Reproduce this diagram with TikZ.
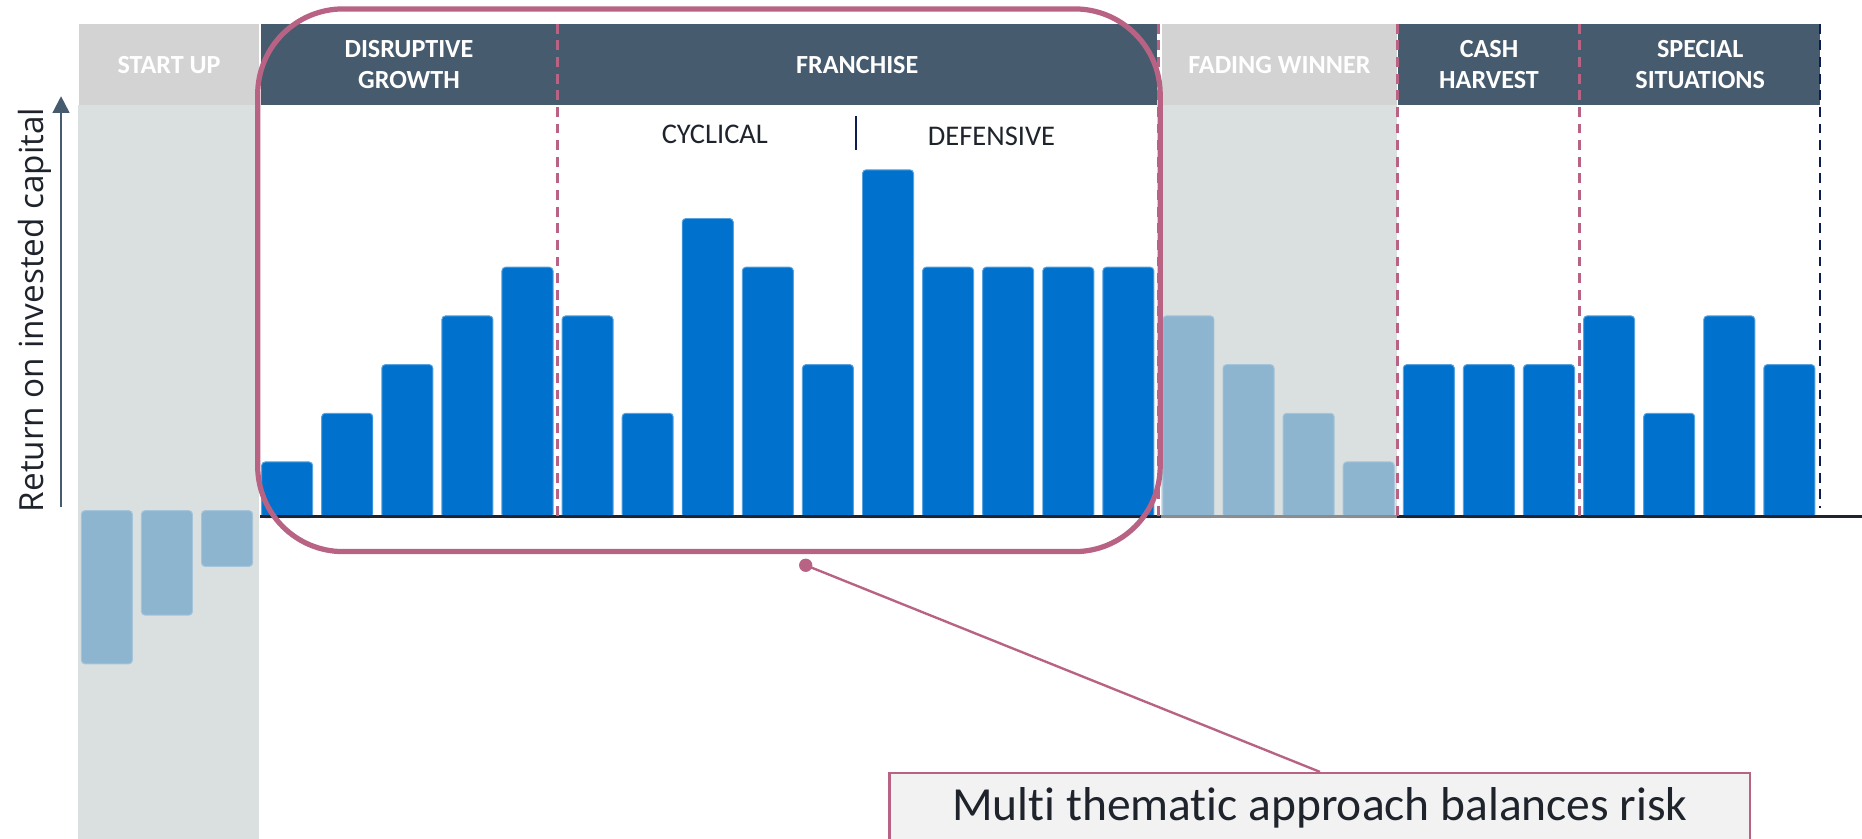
\documentclass[tikz,border=0pt]{standalone}
\usepackage{fontspec}
\setmainfont{Carlito}[Ligatures=CommonOff]
\newfontfamily\axisfont{Open Sans}
\usetikzlibrary{arrows.meta}
\definecolor{hdrblue}{RGB}{71,91,110}
\definecolor{hdrgrey}{RGB}{211,211,211}
\definecolor{bandgrey}{RGB}{218,224,223}
\definecolor{barblue}{RGB}{0,114,206}
\definecolor{barfade}{RGB}{142,181,208}
\definecolor{rose}{RGB}{184,99,131}
\definecolor{navy}{RGB}{12,30,80}
\definecolor{inkdark}{RGB}{31,36,44}
\definecolor{notegrey}{RGB}{242,242,242}

\begin{document}
\begin{tikzpicture}[x=0.5pt,y=-0.5pt]
		\tikzset{
			hdr/.style={anchor=north west,minimum height=34pt,inner sep=0pt,text=white,align=center,
				font=\fontsize{11pt}{13pt}\selectfont\bfseries},
			hdrdark/.style={hdr,fill=hdrblue},
			hdrlight/.style={hdr,fill=hdrgrey},
			bluebar/.style={fill=barblue,draw=barblue!65!white,line width=0.4pt,rounded corners=1.5pt},
			fadebar/.style={fill=barfade,draw=barfade!80!white,line width=0.4pt,rounded corners=1.5pt},
			sepline/.style={rose,line width=1.1pt,dash pattern=on 4.2pt off 2.8pt},
			sepnavy/.style={sepline,navy},
			focusbox/.style={rose,line width=2.2pt,rounded corners=36pt},
			sublabel/.style={text=inkdark,font=\fontsize{12pt}{14pt}\selectfont},
			note/.style={anchor=north,minimum width=362.5pt,minimum height=29pt,fill=notegrey,draw=rose,
				line width=0.9pt,text=inkdark,font=\fontsize{20pt}{24pt}\selectfont}
		}
		\useasboundingbox (0,0) rectangle (1568,706.5);
		\fill[bandgrey] (66,88) rectangle (218,706.5);
		\fill[bandgrey] (978,88) rectangle (1176,436);
		\node[hdrlight,minimum width=76pt] (startup) at (66,20) {START UP};
		\node[hdrdark,minimum width=125pt] (disrupt) at (219,20) {DISRUPTIVE\\GROWTH};
		\node[hdrdark,minimum width=252.5pt] (franchise) at (469,20) {FRANCHISE};
		\node[hdrlight,minimum width=99pt] (fading) at (978,20) {FADING WINNER};
		\node[hdrdark,minimum width=76.5pt] (cash) at (1177,20) {CASH\\HARVEST};
		\node[hdrdark,minimum width=101.3pt] (special) at (1330,20) {SPECIAL\\SITUATIONS};
		\fill[fadebar] (68.5,430) rectangle +(43,129) (119.1,430) rectangle +(43,88)
			(169.7,430) rectangle +(43,47);
		\fill[bluebar] (220.3,389) rectangle +(43,47) (270.9,348) rectangle +(43,88)
			(321.5,307) rectangle +(43,129) (372.1,266) rectangle +(43,170)
			(422.7,225) rectangle +(43,211);
		\fill[bluebar] (473.3,266) rectangle +(43,170) (523.9,348) rectangle +(43,88)
			(574.5,184) rectangle +(43,252) (625.1,225) rectangle +(43,211)
			(675.7,307) rectangle +(43,129) (726.3,143) rectangle +(43,293)
			(776.9,225) rectangle +(43,211) (827.5,225) rectangle +(43,211)
			(878.1,225) rectangle +(43,211) (928.7,225) rectangle +(43,211);
		\fill[fadebar] (979.3,266) rectangle +(43,170) (1029.9,307) rectangle +(43,129)
			(1080.5,348) rectangle +(43,88) (1131.1,389) rectangle +(43,47);
		\fill[bluebar] (1181.7,307) rectangle +(43,129) (1232.3,307) rectangle +(43,129)
			(1282.9,307) rectangle +(43,129);
		\fill[bluebar] (1333.5,266) rectangle +(43,170) (1384.1,348) rectangle +(43,88)
			(1434.7,266) rectangle +(43,170) (1485.3,307) rectangle +(43,129);
		\draw[inkdark,line width=1pt] (219,435) -- (1568,435);
		\draw[black!45,line width=1pt] (978,435) -- (1176,435);
		\draw[sepline] (469.5,20) -- (469.5,435);
		\draw[sepline] (975.5,20) -- (975.5,435);
		\draw[sepline] (1177,20) -- (1177,435);
		\draw[sepline] (1330,20) -- (1330,435);
		\draw[sepnavy] (1532.6,20) -- (1532.6,428);
		\draw[focusbox] (217,7.5) rectangle (977,464.5);
		\node[sublabel] (cyclical) at (602,113) {CYCLICAL};
		\node[sublabel] (defensive) at (835,115) {DEFENSIVE};
		\draw[navy,line width=1pt] (721,98) -- (721,126);
		\node[rotate=90,text=inkdark,font=\axisfont\fontsize{14pt}{16pt}\selectfont] (ylabel) at (29,261)
			{Return on invested capital};
		\draw[hdrblue,line width=0.9pt,-{Triangle[width=7pt,length=7pt]}] (51.4,427) -- (51.4,81);
		\node[note] (risk) at (1111.5,650) {Multi thematic approach balances risk};
		\coordinate (pin) at (678.5,476);
		\draw[rose,line width=1pt] (pin) -- (risk.north);
		\fill[rose] (pin) circle (2.8pt);
	\end{tikzpicture}
\end{document}
